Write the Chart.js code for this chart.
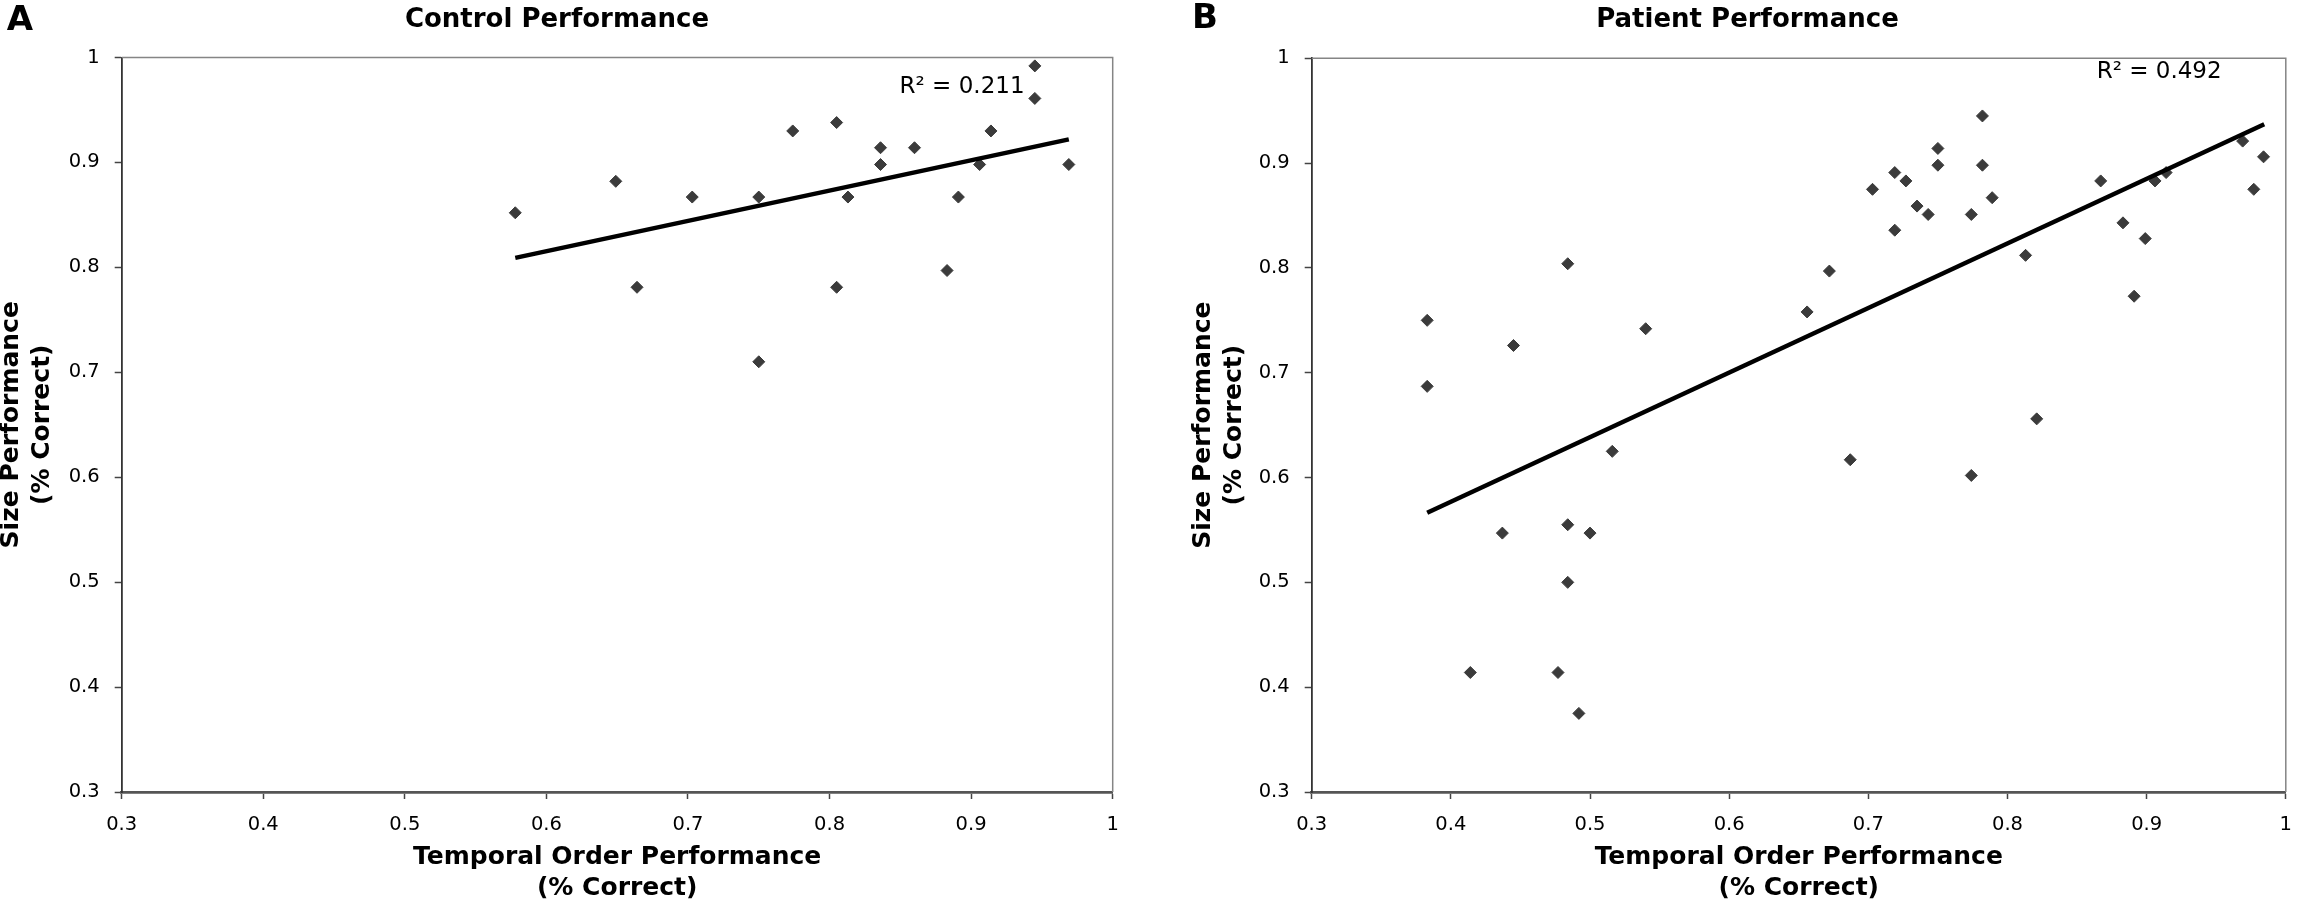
<!DOCTYPE html>
<html>
<head>
<meta charset="utf-8">
<title>Control vs Patient Performance</title>
<script src="https://cdn.jsdelivr.net/npm/chart.js@4.4.1/dist/chart.umd.min.js"></script>
<style>
  html, body { margin: 0; padding: 0; background: #fff; }
  #wrap { position: relative; width: 2306px; height: 902px; overflow: hidden; }
  .panel { position: absolute; top: 0; width: 1153px; height: 902px; }
  #panelA { left: 0; }
  #panelB { left: 1153px; }
</style>
</head>
<body>
<div id="wrap">
  <div class="panel" id="panelA"><canvas id="chartA"></canvas></div>
  <div class="panel" id="panelB"><canvas id="chartB"></canvas></div>
</div>
<script>
// shared axis ticks (both axes, both panels)
const tickValues = [0.3, 0.4, 0.5, 0.6, 0.7, 0.8, 0.9, 1];
const tickLabels = ['0.3', '0.4', '0.5', '0.6', '0.7', '0.8', '0.9', '1'];

// A - controls
const controlTemporal = [0.578, 0.649, 0.664, 0.703, 0.750, 0.750, 0.774, 0.805, 0.805, 0.813,
                         0.836, 0.836, 0.860, 0.883, 0.891, 0.906, 0.914, 0.945, 0.945, 0.969];
const controlSize     = [0.852, 0.882, 0.781, 0.867, 0.867, 0.710, 0.930, 0.938, 0.781, 0.867,
                         0.914, 0.898, 0.914, 0.797, 0.867, 0.898, 0.930, 0.992, 0.961, 0.898];
const controlTrendX = [0.578, 0.969];
const controlTrendY = [0.809, 0.922];
const controlR2 = 'R² = 0.211';

// B - patients
const patientTemporal = [0.383, 0.383, 0.445, 0.484, 0.540, 0.516, 0.656, 0.672, 0.703, 0.719,
                         0.719, 0.727, 0.735, 0.743, 0.750, 0.750, 0.774, 0.782, 0.782, 0.789,
                         0.813, 0.821, 0.867, 0.883, 0.891, 0.899, 0.906, 0.914, 0.969, 0.977,
                         0.984, 0.687, 0.774, 0.437, 0.484, 0.500, 0.484, 0.414, 0.477, 0.492];
const patientSize     = [0.750, 0.687, 0.726, 0.804, 0.742, 0.625, 0.758, 0.797, 0.875, 0.891,
                         0.836, 0.883, 0.859, 0.851, 0.914, 0.898, 0.851, 0.945, 0.898, 0.867,
                         0.812, 0.656, 0.883, 0.843, 0.773, 0.828, 0.883, 0.891, 0.921, 0.875,
                         0.906, 0.617, 0.602, 0.547, 0.555, 0.547, 0.500, 0.414, 0.414, 0.375];
const patientTrendX = [0.383, 0.9845];
const patientTrendY = [0.5665, 0.937];
const patientR2 = 'R² = 0.492';

const xTitle = ['Temporal Order Performance', '(% Correct)'];
const yTitle = ['Size Performance', '(% Correct)'];

Chart.defaults.font.family = '"DejaVu Sans", Verdana, sans-serif';
Chart.defaults.color = '#000';

const FONT = '"DejaVu Sans", Verdana, sans-serif';

// frame on top/right, panel letter, chart title and R² label
const panelDecor = {
    id: 'panelDecor',
    beforeDatasetsDraw(chart) {
        const { ctx, chartArea: a } = chart;
        ctx.save();
        ctx.strokeStyle = '#858585';
        ctx.lineWidth = 1.5;
        ctx.beginPath();
        ctx.moveTo(a.left, a.top);
        ctx.lineTo(a.right, a.top);
        ctx.lineTo(a.right, a.bottom);
        ctx.stroke();
        ctx.restore();
    },
    afterDraw(chart, args, opts) {
        const { ctx, scales } = chart;
        ctx.save();
        ctx.fillStyle = '#000';
        ctx.textAlign = 'center';
        ctx.textBaseline = 'middle';
        ctx.font = 'bold 34px ' + FONT;
        ctx.fillText(opts.letter, opts.letterX, opts.letterY);
        ctx.font = 'bold 26px ' + FONT;
        ctx.fillText(opts.title, opts.titleX, opts.titleY);
        ctx.font = '23px ' + FONT;
        ctx.fillText(opts.r2, scales.x.getPixelForValue(opts.r2At[0]), scales.y.getPixelForValue(opts.r2At[1]));
        ctx.restore();
    }
};

function toPoints(xs, ys) {
    return xs.map((x, i) => ({ x: x, y: ys[i] }));
}

function makeChart(id, pts, trend, decor, padding, yWidth) {
    const ctx = document.getElementById(id);
    return new Chart(ctx, {
        type: 'scatter',
        data: {
            datasets: [{
                label: 'trend',
                data: trend,
                showLine: true,
                borderColor: '#000',
                borderWidth: 4.5,
                pointRadius: 0,
                order: 0
            }, {
                label: 'subjects',
                data: pts,
                pointStyle: 'rectRot',
                pointRadius: 6,
                backgroundColor: '#3b3b3b',
                borderColor: '#3b3b3b',
                borderWidth: 1,
                order: 1
            }]
        },
        options: {
            responsive: true,
            maintainAspectRatio: false,
            animation: false,
            layout: { padding: padding },
            plugins: {
                legend: { display: false },
                tooltip: { enabled: false },
                panelDecor: decor
            },
            scales: {
                x: {
                    type: 'linear',
                    min: 0.3,
                    max: 1,
                    afterBuildTicks: s => { s.ticks = tickValues.map(v => ({ value: v })); },
                    afterFit: s => { s.height = 110; },
                    ticks: {
                        callback: (v, i) => tickLabels[i],
                        font: { size: 19.5 },
                        padding: 14,
                        maxRotation: 0
                    },
                    grid: {
                        drawOnChartArea: false,
                        drawTicks: true,
                        tickLength: 7,
                        tickColor: '#444',
                        tickWidth: 1.5
                    },
                    border: { display: true, color: '#555', width: 2.8 },
                    title: {
                        display: true,
                        text: xTitle,
                        font: { size: 25, weight: 'bold', lineHeight: 1.24 },
                        padding: { top: 0, bottom: -1.5 }
                    }
                },
                y: {
                    type: 'linear',
                    min: 0.3,
                    max: 1,
                    afterBuildTicks: s => { s.ticks = tickValues.map(v => ({ value: v })); },
                    afterFit: s => { s.width = yWidth; },
                    ticks: {
                        callback: (v, i) => tickLabels[i],
                        font: { size: 19.5 },
                        padding: 15
                    },
                    grid: {
                        drawOnChartArea: false,
                        drawTicks: true,
                        tickLength: 7,
                        tickColor: '#444',
                        tickWidth: 1.5
                    },
                    border: { display: true, color: '#333', width: 1.8 },
                    title: {
                        display: true,
                        text: yTitle,
                        font: { size: 25, weight: 'bold', lineHeight: 1.24 },
                        padding: { top: -4.5, bottom: 0 }
                    }
                }
            }
        },
        plugins: [panelDecor]
    });
}

makeChart('chartA',
    toPoints(controlTemporal, controlSize),
    toPoints(controlTrendX, controlTrendY),
    { letter: 'A', letterX: 20, letterY: 21, title: 'Control Performance', titleX: 557, titleY: 20,
      r2: controlR2, r2At: [0.8936, 0.972] },
    { left: 0, right: 40.3, top: 57.5, bottom: 0 },
    121.7);

makeChart('chartB',
    toPoints(patientTemporal, patientSize),
    toPoints(patientTrendX, patientTrendY),
    { letter: 'B', letterX: 52, letterY: 19, title: 'Patient Performance', titleX: 594.5, titleY: 20,
      r2: patientR2, r2At: [0.909, 0.987] },
    { left: 39, right: 5.7, top: 58.3, bottom: 0 },
    119.7);
</script>
</body>
</html>
